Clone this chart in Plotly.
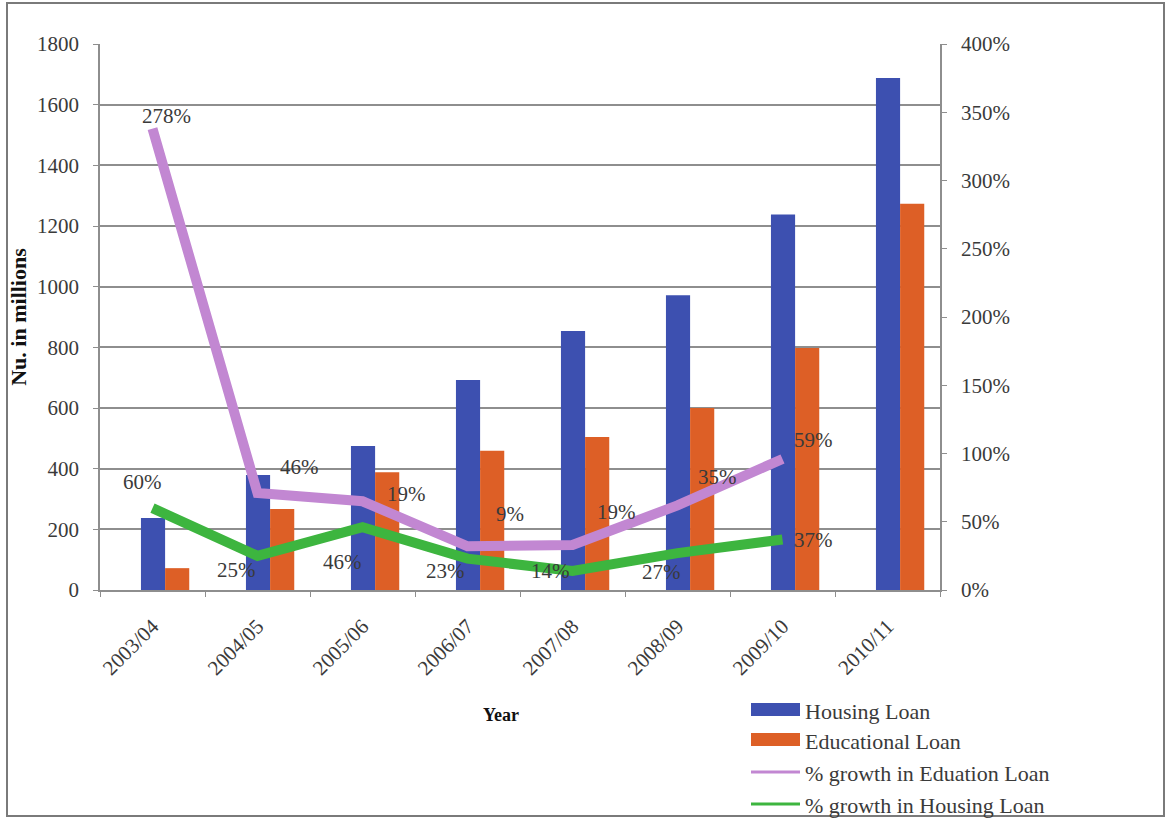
import plotly.graph_objects as go

years = ["2003/04", "2004/05", "2005/06", "2006/07", "2007/08", "2008/09", "2009/10", "2010/11"]
housing_loan = [237, 379, 475, 692, 854, 972, 1238, 1688]
educational_loan = [72, 267, 388, 459, 504, 600, 798, 1273]

growth_years = years[:7]
growth_housing = [60, 25, 46, 23, 14, 27, 37]
growth_education = [278, 46, 19, 9, 19, 35, 59]

FONT = "Liberation Serif"
BLUE = "#3D50B0"
ORANGE = "#DD5F26"
PURPLE = "#C287D2"
GREEN = "#3DB53F"
GRID = "#8E8E8E"
TEXT = "#3A3A3A"

# plot area in pixels (used to place the hand-made legend and the frame)
L, R, T, B = 100, 940, 44, 590
W, H = 1170, 819


def px(x):
    return (x - L) / (R - L)


def py(y):
    return (B - y) / (B - T)


fig = go.Figure()

fig.add_trace(go.Bar(
    x=years, y=housing_loan, name="Housing Loan",
    marker=dict(color=BLUE, line=dict(width=0)),
    width=0.23, offset=-0.11,
))
fig.add_trace(go.Bar(
    x=years, y=educational_loan, name="Educational Loan",
    marker=dict(color=ORANGE, line=dict(width=0)),
    width=0.23, offset=0.12,
))

# growth lines are stacked on the secondary axis (housing first, education on top)
fig.add_trace(go.Scatter(
    x=growth_years, y=growth_housing, name="% growth in Housing Loan",
    yaxis="y2", mode="lines", stackgroup="growth", fill="none",
    line=dict(color=GREEN, width=10),
))
fig.add_trace(go.Scatter(
    x=growth_years, y=growth_education, name="% growth in Eduation Loan",
    yaxis="y2", mode="lines", stackgroup="growth", fill="none",
    line=dict(color=PURPLE, width=10),
))

# data labels: offsets (in px) from each point
housing_shift = [(-10, 26), (-21, -14), (-20, -35), (-22, -12), (-22, 0), (-16, -19), (31, 0)]
education_shift = [(14, 13), (42, 26), (44, 7), (42, 32), (44, 33), (40, 28), (31, 19)]

annotations = []
running = [0] * len(growth_years)
for vals, shifts in ((growth_housing, housing_shift), (growth_education, education_shift)):
    for i, (yr, v) in enumerate(zip(growth_years, vals)):
        running[i] += v
        dx, dy = shifts[i]
        annotations.append(dict(
            x=yr, y=running[i], xref="x", yref="y2", text=f"{v}%",
            showarrow=False, xshift=dx, yshift=dy,
            font=dict(family=FONT, size=21, color=TEXT),
        ))

annotations.append(dict(
    x=px(501), y=py(715), xref="paper", yref="paper", text="<b>Year</b>",
    showarrow=False, xanchor="center", yanchor="middle",
    font=dict(family=FONT, size=18, color="#111"),
))

# legend
legend_rows = [
    ("Housing Loan", BLUE, "box", 710),
    ("Educational Loan", ORANGE, "box", 740),
    ("% growth in Eduation Loan", PURPLE, "line", 772),
    ("% growth in Housing Loan", GREEN, "line", 804),
]
shapes = []
for label, color, kind, yc in legend_rows:
    if kind == "box":
        shapes.append(dict(
            type="rect", xref="paper", yref="paper",
            x0=px(751), x1=px(800), y0=py(yc + 6), y1=py(yc - 7),
            fillcolor=color, line=dict(width=0),
        ))
    else:
        shapes.append(dict(
            type="line", xref="paper", yref="paper",
            x0=px(751), x1=px(800), y0=py(yc), y1=py(yc),
            line=dict(color=color, width=3),
        ))
    annotations.append(dict(
        x=px(803), y=py(yc + 1), xref="paper", yref="paper", text=label,
        showarrow=False, xanchor="left", yanchor="middle",
        font=dict(family=FONT, size=22, color=TEXT),
    ))

# outer frame
shapes.append(dict(
    type="rect", xref="paper", yref="paper",
    x0=px(7), x1=px(1164), y0=py(816), y1=py(3),
    line=dict(color="#7A7A7A", width=2), fillcolor="rgba(0,0,0,0)",
    layer="below",
))

fig.update_layout(
    width=W, height=H,
    margin=dict(l=L, r=W - R, t=T, b=H - B),
    paper_bgcolor="white", plot_bgcolor="white",
    font=dict(family=FONT, size=21, color=TEXT),
    barmode="overlay",
    showlegend=False,
    xaxis=dict(
        type="category", tickangle=-45,
        showline=True, linecolor=GRID, linewidth=1.5,
        ticks="outside", ticklen=5, tickcolor=GRID,
        tickson="boundaries", ticklabelstandoff=14,
        showgrid=False,
        tickfont=dict(family=FONT, size=21, color=TEXT),
    ),
    yaxis=dict(
        range=[0, 1800], dtick=200,
        showline=True, linecolor=GRID, linewidth=1.5,
        ticks="outside", ticklen=5, tickcolor=GRID,
        ticklabelstandoff=10,
        showgrid=True, gridcolor=GRID, gridwidth=1.6,
        zeroline=False,
        tickfont=dict(family=FONT, size=21, color=TEXT),
        title=dict(text="<b>Nu. in millions</b>", font=dict(family=FONT, size=22, color="#111"), standoff=4),
    ),
    yaxis2=dict(
        overlaying="y", side="right",
        range=[0, 400], dtick=50, ticksuffix="%",
        showline=True, linecolor=GRID, linewidth=1.5,
        ticks="outside", ticklen=5, tickcolor=GRID,
        ticklabelstandoff=10,
        showgrid=False, zeroline=False,
        tickfont=dict(family=FONT, size=21, color=TEXT),
    ),
    shapes=shapes,
    annotations=annotations,
)

fig.write_html("out.html")
